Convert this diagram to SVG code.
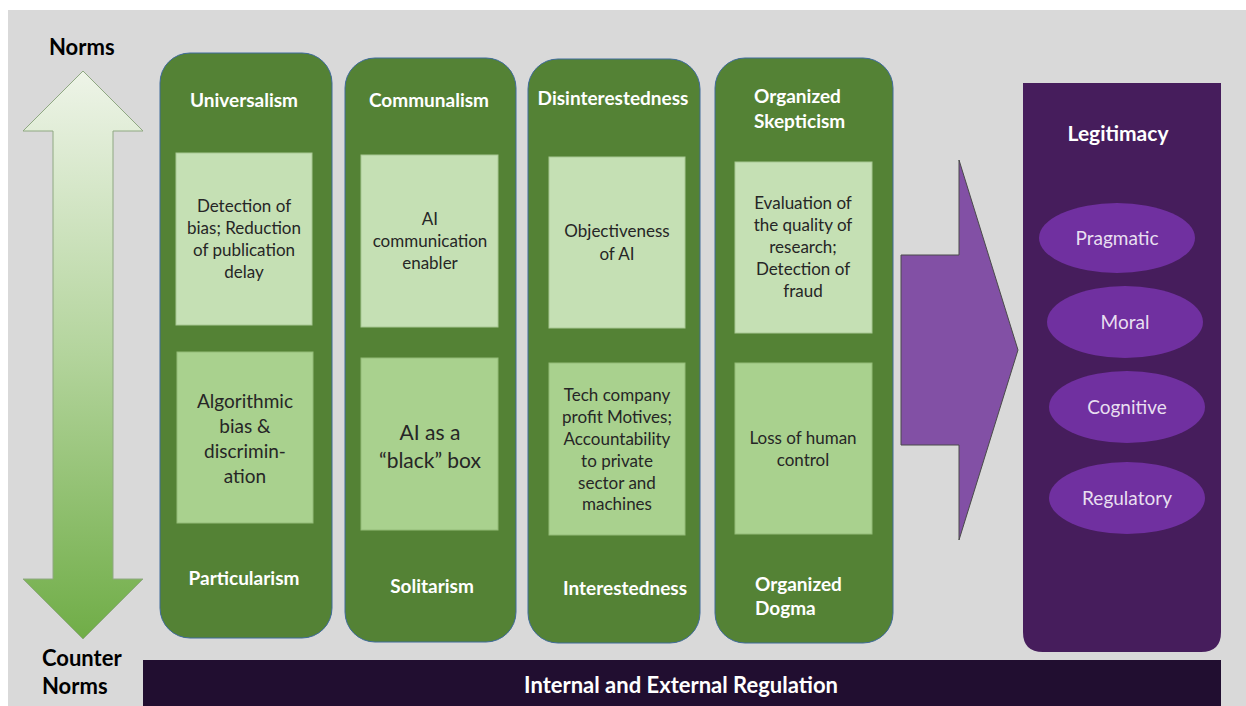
<svg xmlns="http://www.w3.org/2000/svg" width="1246" height="706" viewBox="0 0 1246 706">
<style>
.col{fill:#548235;stroke:#3e6a9a;stroke-width:1}
.bt{fill:#c5e0b4;stroke:#a8c894;stroke-width:1}
.bb{fill:#a9d18e;stroke:#93bb78;stroke-width:1}
.ttl{font-family:Lato,"Liberation Sans",sans-serif;font-weight:bold;font-size:19px;fill:#ffffff}
.txt{font-family:Lato,"Liberation Sans",sans-serif;font-size:17px;fill:#262626;text-anchor:middle}
.ell{fill:#7030a0}
.et{font-family:Lato,"Liberation Sans",sans-serif;font-size:19px;fill:#e8dff0;text-anchor:middle}
.side{font-family:Lato,"Liberation Sans",sans-serif;font-weight:bold;font-size:22px;fill:#000000}
</style>
<defs>
<linearGradient id="gArrow" x1="0" y1="0" x2="0" y2="1">
<stop offset="0" stop-color="#eef4e8"/>
<stop offset="0.5" stop-color="#b3d49c"/>
<stop offset="1" stop-color="#70ad47"/>
</linearGradient>
</defs>
<rect x="0" y="0" width="1246" height="706" fill="#ffffff"/>
<rect x="8" y="10" width="1238" height="696" fill="#d9d9d9"/>

<g id="norms-axis">
<polygon points="83,71 143,131 113,131 113,579 143,579 83,639 23,579 53,579 53,131 23,131" fill="url(#gArrow)" stroke="#8fa882" stroke-width="1"/>
<text class="side" x="49" y="55">Norms</text>
<text class="side" x="42" y="666">Counter</text>
<text class="side" x="42" y="694">Norms</text>
</g>

<g id="col-universalism">
<rect class="col" x="160" y="53" width="172" height="585" rx="30"/>
<text class="ttl" x="244" y="107" text-anchor="middle">Universalism</text>
<rect class="bt" x="176" y="153" width="136" height="172"/>
<text class="txt" x="244" y="212">Detection of</text>
<text class="txt" x="244" y="234">bias; Reduction</text>
<text class="txt" x="244" y="256">of publication</text>
<text class="txt" x="244" y="278">delay</text>
<rect class="bb" x="177" y="352" width="136" height="171"/>
<text class="txt" x="245" y="408" style="font-size:19px">Algorithmic</text>
<text class="txt" x="245" y="433" style="font-size:19px">bias  &amp;</text>
<text class="txt" x="245" y="458" style="font-size:19px">discrimin-</text>
<text class="txt" x="245" y="483" style="font-size:19px">ation</text>
<text class="ttl" x="244" y="585" text-anchor="middle">Particularism</text>
</g>

<g id="col-communalism">
<rect class="col" x="345" y="58" width="171" height="584" rx="30"/>
<text class="ttl" x="429" y="107" text-anchor="middle">Communalism</text>
<rect class="bt" x="361" y="155" width="137" height="172"/>
<text class="txt" x="430" y="225">AI</text>
<text class="txt" x="430" y="247">communication</text>
<text class="txt" x="430" y="269">enabler</text>
<rect class="bb" x="361" y="358" width="137" height="172"/>
<text class="txt" x="430" y="440" style="font-size:21px">AI as a</text>
<text class="txt" x="430" y="468" style="font-size:21px">“black” box</text>
<text class="ttl" x="432" y="593" text-anchor="middle">Solitarism</text>
</g>

<g id="col-disinterestedness">
<rect class="col" x="528" y="59" width="172" height="584" rx="30"/>
<text class="ttl" x="613" y="105" text-anchor="middle">Disinterestedness</text>
<rect class="bt" x="549" y="157" width="136" height="171"/>
<text class="txt" x="617" y="237">Objectiveness</text>
<text class="txt" x="617" y="260">of AI</text>
<rect class="bb" x="549" y="363" width="136" height="172"/>
<text class="txt" x="617" y="401">Tech company</text>
<text class="txt" x="617" y="423">profit Motives;</text>
<text class="txt" x="617" y="445">Accountability</text>
<text class="txt" x="617" y="467">to private</text>
<text class="txt" x="617" y="489">sector and</text>
<text class="txt" x="617" y="510">machines</text>
<text class="ttl" x="625" y="595" text-anchor="middle">Interestedness</text>
</g>

<g id="col-organized-skepticism">
<rect class="col" x="715" y="58" width="178" height="585" rx="30"/>
<text class="ttl" x="754" y="103">Organized</text>
<text class="ttl" x="754" y="128">Skepticism</text>
<rect class="bt" x="735" y="162" width="137" height="171"/>
<text class="txt" x="803" y="209">Evaluation of</text>
<text class="txt" x="803" y="231">the quality of</text>
<text class="txt" x="803" y="253">research;</text>
<text class="txt" x="803" y="275">Detection of</text>
<text class="txt" x="803" y="297">fraud</text>
<rect class="bb" x="735" y="363" width="137" height="171"/>
<text class="txt" x="803" y="444">Loss of human</text>
<text class="txt" x="803" y="466">control</text>
<text class="ttl" x="755" y="591">Organized</text>
<text class="ttl" x="755" y="615">Dogma</text>
</g>

<g id="connectors">
<polygon points="901,255 959,255 959,160 1018,350 959,540 959,445 901,445" fill="#8250a5" stroke="#4a4a4a" stroke-width="1"/>
</g>

<g id="legitimacy">
<path d="M1023,83 H1221 V632 Q1221,652 1201,652 H1043 Q1023,652 1023,632 Z" fill="#461d5c"/>
<text class="ttl" x="1118" y="141" text-anchor="middle" style="font-size:21px">Legitimacy</text>
<g id="pragmatic"><ellipse class="ell" cx="1117" cy="238" rx="78" ry="35"/><text class="et" x="1117" y="245">Pragmatic</text></g>
<g id="moral"><ellipse class="ell" cx="1125" cy="322" rx="78" ry="36"/><text class="et" x="1125" y="329">Moral</text></g>
<g id="cognitive"><ellipse class="ell" cx="1127" cy="407" rx="78" ry="36"/><text class="et" x="1127" y="414">Cognitive</text></g>
<g id="regulatory"><ellipse class="ell" cx="1127" cy="498" rx="78" ry="36"/><text class="et" x="1127" y="505">Regulatory</text></g>
</g>

<g id="regulation-bar">
<rect x="143" y="660" width="1078" height="46" fill="#210e30"/>
<text class="ttl" x="681" y="693" text-anchor="middle" style="font-size:22px">Internal and External Regulation</text>
</g>
</svg>
